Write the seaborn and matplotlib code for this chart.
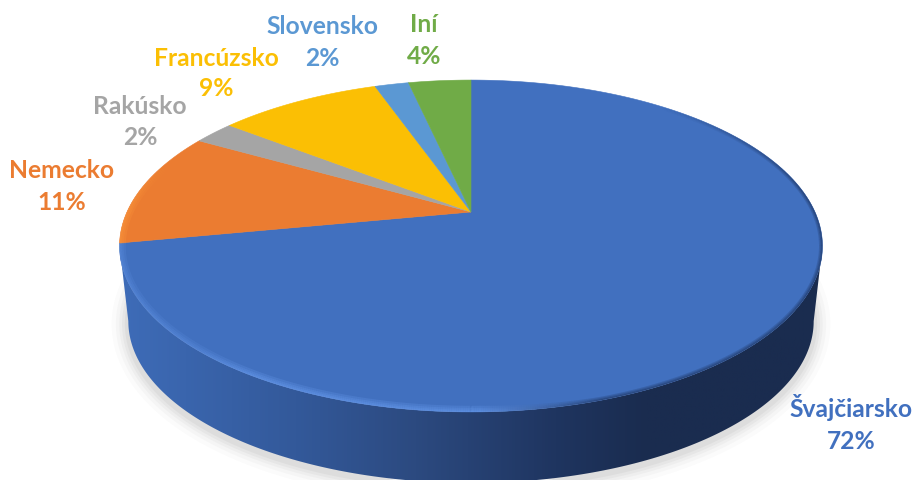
import numpy as np
import matplotlib
matplotlib.use("Agg")
import matplotlib.pyplot as plt
import seaborn as sns
from matplotlib.collections import LineCollection
from matplotlib.colors import LinearSegmentedColormap, to_rgb
from matplotlib.patches import Polygon

# --- data ---
krajiny = ["Švajčiarsko", "Nemecko", "Rakúsko", "Francúzsko", "Slovensko", "Iní"]
popisy = ["72%", "11%", "2%", "9%", "2%", "4%"]
podiely = [72.0, 11.2, 2.3, 9.1, 1.9, 3.5]  # read from the wedge edges, not from the rounded labels
farby = ["#4170BF", "#EB7C31", "#A5A5A5", "#FBBF04", "#5B98D3", "#70AB47"]

# --- layout (pixels of the 914x481 picture) ---
CX, CY = 471, 213
A, B, K = 344, 159, 0.205  # projected disc: half width, half height, perspective
HLBKA, ZUZENIE = 76, 0.975  # lower face of the disc
POZ_MENO = [(851, 408), (62, 171), (140, 106), (216, 58), (322, 26), (424, 24)]
POZ_POPIS = [(851, 442), (62, 203), (140, 138), (216, 89), (322, 59), (424, 56)]

sns.set_theme(style="white")
plt.rcParams["font.family"] = ["Lato", "DejaVu Sans"]
paleta = sns.color_palette(farby)


def disk(t, dy=0.0, s=1.0):
    # t runs clockwise from the top, 0..2pi
    u, v = np.sin(t), np.cos(t)
    d = 1 + K * v
    return CX + s * A * u / d, CY + dy - s * B * v / d


fig, ax = plt.subplots(figsize=(9.14, 4.81), dpi=100)
fig.subplots_adjust(0, 0, 1, 1)
ax.set_xlim(0, 914)
ax.set_ylim(481, 0)
ax.axis("off")

t_all = np.linspace(0, 2 * np.pi, 721)
x_top, y_top = disk(t_all)

# soft shadow round the lower face
t_tien = np.linspace(np.radians(85), np.radians(275), 300)
x_t, y_t = disk(t_tien, HLBKA, ZUZENIE)
for w, a in zip([24, 18, 13, 9, 5], [0.025, 0.03, 0.04, 0.05, 0.06]):
    ax.plot(x_t, y_t + 3, color="#555555", lw=w, alpha=a, zorder=1, solid_capstyle="round")

# side wall with a horizontal gradient
t_front = np.linspace(np.arccos(-K), 2 * np.pi - np.arccos(-K), 400)
xa, ya = disk(t_front)
xb, yb = disk(t_front, HLBKA, ZUZENIE)
stena = Polygon(np.r_[np.c_[xa, ya], np.c_[xb, yb][::-1]], fc="none", ec="none",
                transform=ax.transData)
ax.add_patch(stena)
cmap = LinearSegmentedColormap.from_list(
    "stena", [(0, "#3E6CB8"), (0.25, "#33599A"), (0.42, "#2C4A80"), (0.62, "#1F3560"),
              (0.75, "#1A2C4F"), (1, "#1A2C4F")])
grad = ax.imshow(np.linspace(0, 1, 512)[None, :], cmap=cmap, extent=(120, 822, 481, 200),
                 aspect="auto", zorder=2)
grad.set_clip_path(stena)
ax.set_xlim(0, 914)
ax.set_ylim(481, 0)

# top face, one wedge per share
hranice = np.r_[0, np.cumsum(podiely)] / np.sum(podiely) * 2 * np.pi
for i in range(len(podiely)):
    t = np.linspace(hranice[i], hranice[i + 1], 200)
    x, y = disk(t)
    ax.fill(np.r_[CX, x], np.r_[CY, y], color=paleta[i], lw=0.4, zorder=3)

# bevel along the rim, clipped to the top face
okraj = Polygon(np.c_[x_top, y_top], fc="none", ec="none")
ax.add_patch(okraj)
t_rim = np.linspace(0, 2 * np.pi, 1200)
xr, yr = disk(t_rim)
body = np.c_[xr, yr]
seg = np.stack([body[:-1], body[1:]], axis=1)
tm = (t_rim[:-1] + t_rim[1:]) / 2
xm = (xr[:-1] + xr[1:]) / 2
ymid = (yr[:-1] + yr[1:]) / 2

svetla = np.array(to_rgb("#6C9FF2"))
tmava = np.array(to_rgb("#1B2F57"))
oranz = np.array(to_rgb("#FF9A40"))
rgba = np.zeros((len(seg), 4))
sirka = np.ones(len(seg))
for j in range(len(seg)):
    if tm[j] < hranice[1]:
        # dark on the right, light on the lower left, nothing along the back
        m = np.clip((xm[j] - 480) / 120, 0, 1)
        rgba[j, :3] = svetla * (1 - m) + tmava * m
        sirka[j] = 1 - 0.45 * m
        sila = np.clip((tm[j] - np.radians(40)) / np.radians(40), 0, 1)
        if xm[j] < 470:
            sila = np.clip((xm[j] - 120) / 130, 0.6, 1)
        rgba[j, 3] = 0.22 * sila
    elif tm[j] < hranice[2]:
        rgba[j, :3] = oranz
        rgba[j, 3] = 0.22 * np.clip((ymid[j] - 160) / 50, 0, 1)
for w in [9, 6, 3.5, 1.5]:
    lc = LineCollection(seg, colors=rgba, linewidths=w * sirka, zorder=4, capstyle="butt")
    ax.add_collection(lc)
    lc.set_clip_path(okraj)

# labels
for i, k in enumerate(krajiny):
    ax.text(*POZ_MENO[i], k, color=paleta[i], fontsize=17.7, fontweight="bold",
            ha="center", va="center", zorder=5)
    ax.text(*POZ_POPIS[i], popisy[i], color=paleta[i], fontsize=17.7, fontweight="bold",
            ha="center", va="center", zorder=5)

fig.savefig("out.png", dpi=100, facecolor="white")
